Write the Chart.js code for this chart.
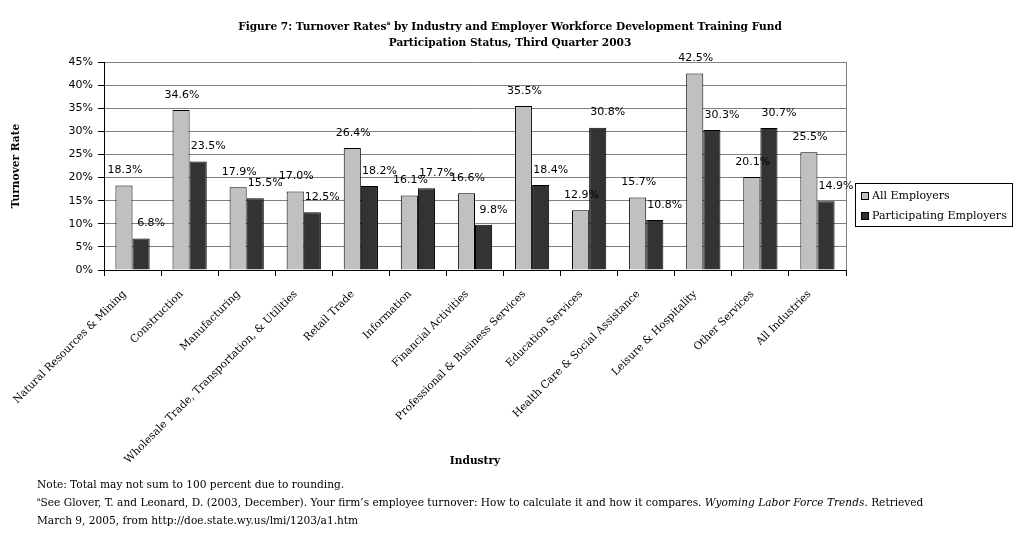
<!DOCTYPE html>
<html>
<head>
<meta charset="utf-8">
<script src="https://cdn.jsdelivr.net/npm/chart.js@4.4.0/dist/chart.umd.min.js"></script>
<style>
html,body{margin:0;padding:0;background:#fff;}
#wrap{position:relative;width:1020px;height:538px;}
</style>
</head>
<body>
<div id="wrap"><canvas id="c" width="1020" height="538"></canvas></div>
<script>
const categories = [
  "Natural Resources & Mining",
  "Construction",
  "Manufacturing",
  "Wholesale Trade, Transportation, & Utilities",
  "Retail Trade",
  "Information",
  "Financial Activities",
  "Professional & Business Services",
  "Education Services",
  "Health Care & Social Assistance",
  "Leisure & Hospitality",
  "Other Services",
  "All Industries"
];
const allEmployers = [18.3, 34.6, 17.9, 17.0, 26.4, 16.1, 16.6, 35.5, 12.9, 15.7, 42.5, 20.1, 25.5];
const participatingEmployers = [6.8, 23.5, 15.5, 12.5, 18.2, 17.7, 9.8, 18.4, 30.8, 10.8, 30.3, 30.7, 14.9];
const seriesNames = ["All Employers", "Participating Employers"];
const yTicks = [0, 5, 10, 15, 20, 25, 30, 35, 40, 45];

const titleLines = [
  ["Figure 7: Turnover Rates", "a", " by Industry and Employer Workforce Development Training Fund"],
  ["Participation Status, Third Quarter 2003"]
];

const SERIF = '"DejaVu Serif", "Liberation Serif", serif';
const SANS = '"DejaVu Sans", Verdana, sans-serif';

const decorPlugin = {
  id: 'decor',
  afterDraw(chart) {
    const ctx = chart.ctx;
    const ca = chart.chartArea;
    ctx.save();
    // right border of plot area
    ctx.strokeStyle = '#808080';
    ctx.lineWidth = 1;
    ctx.beginPath();
    ctx.moveTo(Math.round(ca.right) + 0.5, ca.top);
    ctx.lineTo(Math.round(ca.right) + 0.5, ca.bottom);
    ctx.stroke();

    // data labels
    ctx.fillStyle = '#000';
    ctx.font = '11px ' + SANS;
    ctx.textAlign = 'center';
    ctx.textBaseline = 'middle';
    const dx = [1, 10];
    chart.data.datasets.forEach((ds, di) => {
      const meta = chart.getDatasetMeta(di);
      meta.data.forEach((bar, i) => {
        const v = ds.data[i];
        ctx.fillText(v.toFixed(1) + '%', bar.x + dx[di], bar.y - 15);
      });
    });

    // title
    ctx.fillStyle = '#000';
    ctx.textBaseline = 'middle';
    const cx = 510;
    const tf = 'bold 10.6px ' + SERIF;
    const sf = 'bold 6px ' + SERIF;
    titleLines.forEach((parts, li) => {
      const y = 27 + li * 16;
      let w = 0;
      parts.forEach((p, pi) => {
        ctx.font = (parts.length === 3 && pi === 1) ? sf : tf;
        w += ctx.measureText(p).width;
      });
      let x = cx - w / 2;
      ctx.textAlign = 'left';
      parts.forEach((p, pi) => {
        const sup = parts.length === 3 && pi === 1;
        ctx.font = sup ? sf : tf;
        ctx.fillText(p, x, sup ? y - 4 : y);
        x += ctx.measureText(p).width;
      });
    });

    // legend
    const lx = 855, ly = 183, lw = 157, lh = 43;
    ctx.strokeStyle = '#000';
    ctx.lineWidth = 1;
    ctx.strokeRect(lx + 0.5, ly + 0.5, lw, lh);
    ctx.font = '11px ' + SERIF;
    ctx.textAlign = 'left';
    chart.data.datasets.forEach((ds, di) => {
      const iy = ly + 13 + di * 20;
      ctx.fillStyle = ds.backgroundColor;
      ctx.fillRect(lx + 6, iy - 4, 8, 8);
      ctx.strokeStyle = '#000';
      ctx.strokeRect(lx + 6.5, iy - 3.5, 7, 7);
      ctx.fillStyle = '#000';
      ctx.fillText(ds.label, lx + 17, iy);
    });

    // footnotes
    const fs = 10.6;
    const ff = fs + 'px ' + SERIF;
    ctx.font = ff;
    ctx.textBaseline = 'middle';
    ctx.fillText('Note: Total may not sum to 100 percent due to rounding.', 37, 485);
    let x = 37;
    ctx.font = '6px ' + SERIF;
    ctx.fillText('a', x, 499);
    x += ctx.measureText('a').width;
    ctx.font = ff;
    const p1 = 'See Glover, T. and Leonard, D. (2003, December). Your firm\u2019s employee turnover: How to calculate it and how it compares. ';
    ctx.fillText(p1, x, 503);
    x += ctx.measureText(p1).width;
    ctx.font = 'italic ' + ff;
    const p2 = 'Wyoming Labor Force Trends.';
    ctx.fillText(p2, x, 503);
    x += ctx.measureText(p2).width;
    ctx.font = ff;
    ctx.fillText(' Retrieved', x, 503);
    ctx.fillText('March 9, 2005, from http://doe.state.wy.us/lmi/1203/a1.htm', 37, 521);
    ctx.restore();
  }
};

new Chart(document.getElementById('c'), {
  type: 'bar',
  data: {
    labels: categories,
    datasets: [
      { label: seriesNames[0], data: allEmployers, backgroundColor: '#c0c0c0', borderColor: '#000', borderWidth: 1,
        categoryPercentage: 0.6, barPercentage: 1.0 },
      { label: seriesNames[1], data: participatingEmployers, backgroundColor: '#333333', borderColor: '#000', borderWidth: 1,
        categoryPercentage: 0.6, barPercentage: 1.0 }
    ]
  },
  options: {
    responsive: false,
    animation: false,
    devicePixelRatio: 1,
    layout: { padding: { top: 62, left: 0, right: 174, bottom: 68 } },
    plugins: {
      legend: { display: false },
      title: { display: false },
      tooltip: { enabled: false }
    },
    scales: {
      x: {
        grid: { display: true, drawOnChartArea: false, offset: true, tickLength: 6, color: '#000' },
        border: { color: '#000' },
        ticks: { autoSkip: false, maxRotation: 45, minRotation: 45, color: '#000', padding: 12, labelOffset: -8,
                 font: { family: SERIF, size: 10.6 } },
        title: { display: true, text: 'Industry', color: '#000', font: { family: SERIF, size: 10.6, weight: 'bold' },
                 padding: { top: 0, bottom: 2 } },
        afterFit(s) { s.height = 200; s.paddingLeft = 0; s.paddingRight = 0; }
      },
      y: {
        min: 0, max: 45,
        afterBuildTicks(s) { s.ticks = yTicks.map(v => ({ value: v })); },
        grid: { color: '#808080', tickColor: '#000', tickLength: 6 },
        border: { color: '#000' },
        ticks: { color: '#000', padding: 5, font: { family: SANS, size: 11 },
                 callback: v => v + '%' },
        title: { display: true, text: 'Turnover Rate', color: '#000', font: { family: SERIF, size: 10.6, weight: 'bold' },
                 padding: { top: 10, bottom: 0 } },
        afterFit(s) { s.width = 104; s.paddingTop = 0; s.paddingBottom = 0; }
      }
    }
  },
  plugins: [decorPlugin]
});
</script>
</body>
</html>
